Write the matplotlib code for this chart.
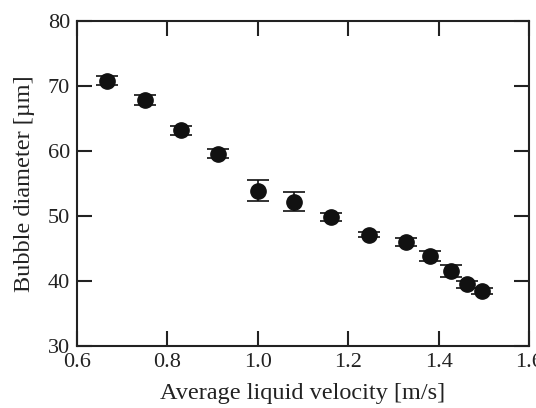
import matplotlib
matplotlib.use("Agg")
import matplotlib.pyplot as plt

velocity = [0.667, 0.75, 0.83, 0.913, 1.0, 1.08, 1.163, 1.247, 1.328, 1.38, 1.428, 1.462, 1.495]
diameter = [70.8, 67.85, 63.2, 59.6, 53.9, 52.2, 49.9, 47.1, 45.95, 43.9, 41.5, 39.5, 38.5]
diameter_err = [0.7, 0.7, 0.7, 0.75, 1.6, 1.5, 0.6, 0.4, 0.6, 0.75, 0.9, 0.5, 0.5]
xticks = [0.6, 0.8, 1.0, 1.2, 1.4, 1.6]
yticks = [30, 40, 50, 60, 70, 80]

plt.rcParams['font.family'] = ['Liberation Serif', 'DejaVu Serif']

fig = plt.figure(figsize=(5.36, 4.08), dpi=100)
ax = fig.add_axes([77/536, 1-346/408, (529-77)/536, (346-21)/408])

ax.errorbar(velocity, diameter, yerr=diameter_err, fmt='o', color='#111111',
            markersize=11, capsize=8, elinewidth=1.2, capthick=1.2, ecolor='#111111')

ax.set_xlim(0.6, 1.6)
ax.set_ylim(30, 80)
ax.set_xticks(xticks)
ax.set_xticklabels([f"{t:.1f}" for t in xticks])
ax.set_yticks(yticks)
ax.tick_params(direction='in', top=True, right=True, length=11, width=1.5,
               labelsize=16, colors='#222222')
ax.tick_params(axis='x', pad=5)
ax.tick_params(axis='y', pad=5)
for s in ax.spines.values():
    s.set_linewidth(1.5)
    s.set_color('#222222')
ax.set_xlabel('Average liquid velocity [m/s]', fontsize=17.5, color='#222222', labelpad=8)
ax.set_ylabel('Bubble diameter [µm]', fontsize=17.5, color='#222222', labelpad=9)

fig.savefig('out.png', dpi=100)
